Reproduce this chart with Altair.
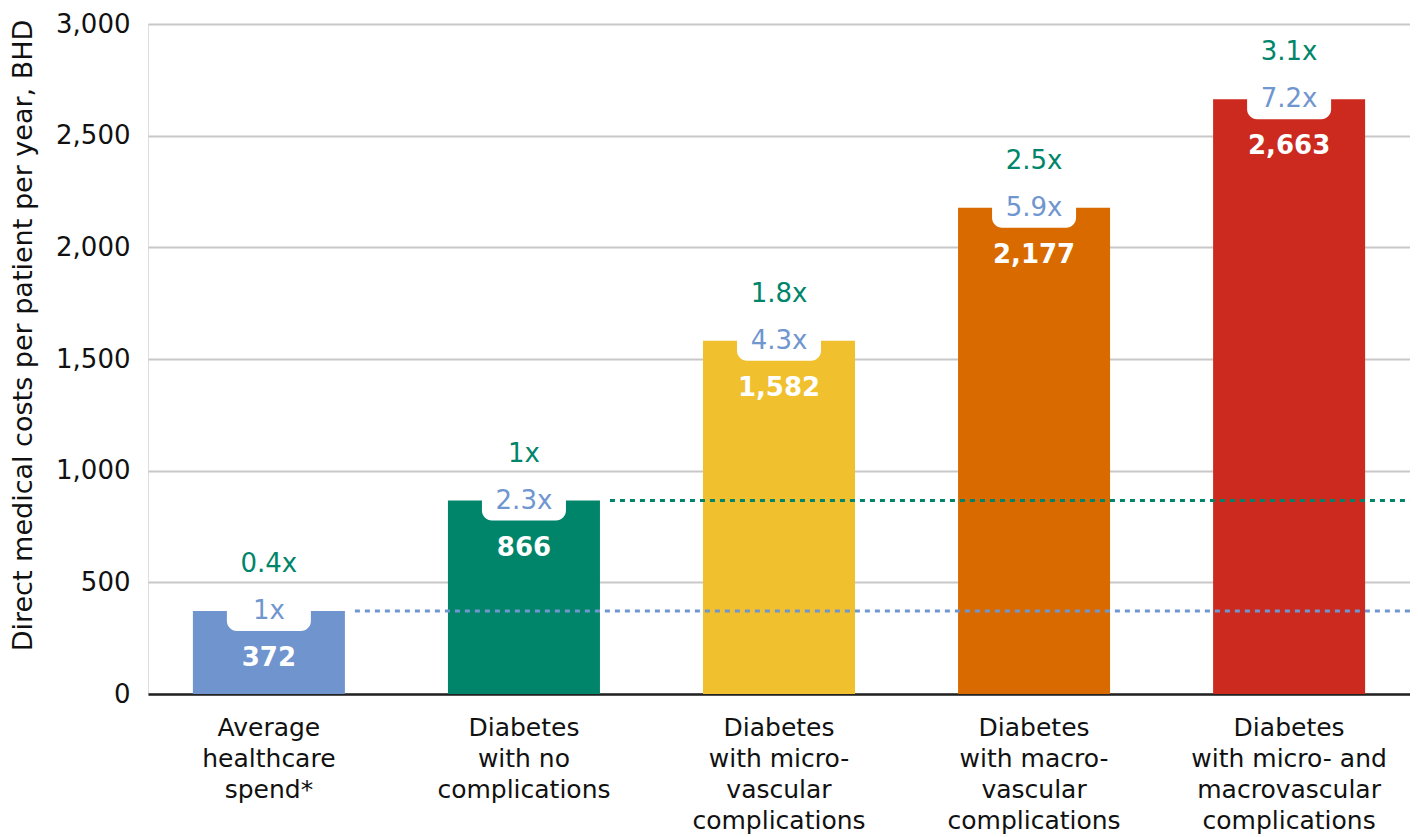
import altair as alt
import pandas as pd

categories = [
    "Average|healthcare|spend*",
    "Diabetes|with no|complications",
    "Diabetes|with micro-|vascular|complications",
    "Diabetes|with macro-|vascular|complications",
    "Diabetes|with micro- and|macrovascular|complications",
]
values = [372, 866, 1582, 2177, 2663]
value_labels = ["372", "866", "1,582", "2,177", "2,663"]
vs_average = ["1x", "2.3x", "4.3x", "5.9x", "7.2x"]
vs_no_compl = ["0.4x", "1x", "1.8x", "2.5x", "3.1x"]
bar_colors = ["#7094cd", "#00856b", "#f0c02e", "#d86a00", "#cc2a1f"]

ref_categories = [categories[0], categories[1]]
ref_values = [372, 866]
ref_colors = ["#7096d0", "#00856a"]

FONT = "Verdana, DejaVu Sans, sans-serif"
BLUE_TXT = "#7096d0"
GREEN_TXT = "#00856a"

df = pd.DataFrame({
    "cat": categories,
    "value": values,
    "vlabel": value_labels,
    "avg": vs_average,
    "nocomp": vs_no_compl,
    "color": bar_colors,
})
ref_df = pd.DataFrame({"cat": ref_categories, "value": ref_values, "color": ref_colors})

xscale = alt.Scale(domain=categories, paddingInner=0.404, paddingOuter=0.176)
x_enc = alt.X(
    "cat:N",
    scale=xscale,
    sort=categories,
    title=None,
    axis=alt.Axis(
        labelExpr="split(datum.label, '|')",
        labelAngle=0,
        labelFont=FONT,
        labelFontSize=25,
        labelColor="#111111",
        labelLineHeight=31,
        labelPadding=21,
        labelBaseline="top",
        labelLimit=0,
        ticks=False,
        domain=True,
        domainColor="#222222",
        domainWidth=2.5,
        grid=False,
    ),
)
y_scale = alt.Scale(domain=[0, 3000], nice=False)
y_enc = alt.Y(
    "value:Q",
    scale=y_scale,
    title="Direct medical costs per patient per year, BHD",
    axis=alt.Axis(
        values=[0, 500, 1000, 1500, 2000, 2500, 3000],
        format=",.0f",
        labelFont=FONT,
        labelFontSize=26,
        labelColor="#111111",
        labelPadding=18,
        ticks=False,
        domain=False,
        grid=True,
        gridColor="#c8c8c8",
        gridWidth=2,
        titleFont=FONT,
        titleFontSize=27,
        titleFontWeight="normal",
        titleColor="#111111",
        titleAngle=270,
        titleAlign="center",
        titleBaseline="middle",
        titleX=-125,
        titleY=311,
    ),
)

base = alt.Chart(df)

bars = base.mark_bar().encode(
    x=x_enc,
    y=y_enc,
    color=alt.Color("color:N", scale=None),
)

boxes = base.mark_bar(
    width=84,
    color="white",
    cornerRadiusBottomLeft=10,
    cornerRadiusBottomRight=10,
    yOffset=-2,
    y2Offset=20,
).encode(
    x=alt.X("cat:N", scale=xscale, sort=categories),
    y=alt.Y("value:Q", scale=y_scale),
    y2="value:Q",
)

rules = alt.Chart(ref_df).mark_rule(
    strokeDash=[5, 5], strokeWidth=3, xOffset=10
).encode(
    x=alt.X("cat:N", scale=xscale, sort=categories, bandPosition=1),
    x2=alt.value(1262),
    y=alt.Y("value:Q", scale=y_scale),
    color=alt.Color("color:N", scale=None),
)

val_text = base.mark_text(
    font=FONT, fontSize=26, fontWeight="bold", color="white", dy=47, baseline="middle"
).encode(
    x=alt.X("cat:N", scale=xscale, sort=categories),
    y=alt.Y("value:Q", scale=y_scale),
    text="vlabel:N",
)

avg_text = base.mark_text(
    font=FONT, fontSize=26, color=BLUE_TXT, dy=0, baseline="middle"
).encode(
    x=alt.X("cat:N", scale=xscale, sort=categories),
    y=alt.Y("value:Q", scale=y_scale),
    text="avg:N",
)

nocomp_text = base.mark_text(
    font=FONT, fontSize=26, color=GREEN_TXT, dy=-47, baseline="middle"
).encode(
    x=alt.X("cat:N", scale=xscale, sort=categories),
    y=alt.Y("value:Q", scale=y_scale),
    text="nocomp:N",
)

chart = (
    alt.layer(bars, boxes, rules, val_text, avg_text, nocomp_text)
    .properties(
        width=1262,
        height=670,
        autosize=alt.AutoSizeParams(type="none"),
        padding={"left": 140, "top": 16, "right": 0, "bottom": 140},
    )
    .configure_view(stroke=None)
    .configure(background="white")
)

chart.save("out.html", embed_options={"renderer": "svg", "actions": False})
